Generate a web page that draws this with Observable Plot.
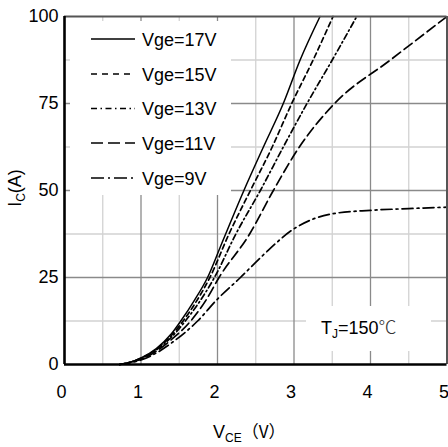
<!DOCTYPE html>
<html><head><meta charset="utf-8">
<script src="https://cdn.jsdelivr.net/npm/d3@7"></script>
<script src="https://cdn.jsdelivr.net/npm/@observablehq/plot@0.6"></script>
<style>html,body{margin:0;padding:0;background:#fff} svg{display:block}</style>
</head><body><div id="chart"></div>
<script>
// ---- data ----
const seriesNames = ["Vge=17V", "Vge=15V", "Vge=13V", "Vge=11V", "Vge=9V"];
const vce17 = [0.72, 0.85, 1.0, 1.2, 1.4, 1.52, 1.7, 1.87, 2.05, 2.345, 2.6, 2.86, 3.08, 3.34];
const ic17  = [0, 0.6, 1.9, 4.6, 8.9, 12.5, 18.5, 25, 34.5, 50, 62.5, 75, 87.5, 100];
const vce15 = [0.72, 0.85, 1.0, 1.2, 1.4, 1.55, 1.72, 1.9, 2.15, 2.43, 2.715, 2.97, 3.25, 3.51];
const ic15  = [0, 0.6, 1.8, 4.4, 8.4, 12.5, 18, 25, 37.5, 50, 62.5, 75, 87.5, 100];
const vce13 = [0.72, 0.85, 1.0, 1.2, 1.4, 1.58, 1.77, 1.96, 2.24, 2.56, 2.86, 3.17, 3.5, 3.82];
const ic13  = [0, 0.6, 1.7, 4.2, 7.9, 12.5, 18.2, 25, 37.5, 50, 62.5, 75, 87.5, 100];
const vce11 = [0.72, 0.85, 1.0, 1.2, 1.4, 1.65, 1.85, 2.02, 2.42, 2.73, 3.07, 3.53, 4.26, 5.0];
const ic11  = [0, 0.5, 1.5, 3.8, 7.2, 12.5, 18.5, 25, 37.5, 50, 62.5, 75, 87.5, 100];
const vce9  = [0.72, 0.85, 1.0, 1.2, 1.4, 1.74, 2.0, 2.3, 2.6, 3.0, 3.25, 3.5, 4.0, 4.5, 5.0];
const ic9   = [0, 0.5, 1.3, 3.3, 6.2, 12.5, 18.8, 25, 31.5, 39, 41.8, 43.3, 44.3, 44.8, 45.2];
const xTicks = [0, 1, 2, 3, 4, 5];
const yTicks = [0, 25, 50, 75, 100];
const xMinor = [0.5, 1.5, 2.5, 3.5, 4.5];
const yMinor = [12.5, 37.5, 62.5, 87.5];
const xTitle = ["V", "CE", "（V）"];
const yTitle = ["I", "C", "(A)"];
const tempLabel = ["T", "J", "=150", "℃"];

// ---- styles ----
const dashStyle = {
  "Vge=17V": null,
  "Vge=15V": "5,3.5",
  "Vge=13V": "6,3,1.5,3",
  "Vge=11V": "10,4.5",
  "Vge=9V": "11,4,2,4"
};
const legendDash = {
  "Vge=17V": null,
  "Vge=15V": "6,5",
  "Vge=13V": "6,3.5,1.5,3.5",
  "Vge=11V": "12,5",
  "Vge=9V": "13,4,2,4"
};
const FONT = "'Liberation Sans', Arial, Helvetica, sans-serif";

const seriesData = [[vce17, ic17], [vce15, ic15], [vce13, ic13], [vce11, ic11], [vce9, ic9]];
const rows = [];
seriesData.forEach(([xs, ys], i) => xs.forEach((x, j) => rows.push({s: seriesNames[i], vce: x, ic: ys[j]})));

const lineMarks = seriesNames.map(name => Plot.line(rows.filter(d => d.s === name), {
  x: "vce", y: "ic", stroke: "black", strokeWidth: dashStyle[name] ? 1.7 : 1.5,
  strokeDasharray: dashStyle[name] || undefined, curve: "monotone-x"
}));

// white boxes behind legend and temperature label (pixel-positioned annotations)
const boxes = () => {
  const g = d3.create("svg:g");
  g.append("rect").attr("x", 70).attr("y", 21).attr("width", 161).attr("height", 174).attr("fill", "white");
  g.append("rect").attr("x", 306).attr("y", 306).attr("width", 125).attr("height", 45).attr("fill", "white");
  return g.node();
};

const annotations = () => {
  const g = d3.create("svg:g").attr("font-family", FONT).attr("fill", "black").attr("text-anchor", "start");
  // legend
  const ys = [39, 74, 108.5, 143, 178];
  seriesNames.forEach((name, i) => {
    g.append("line").attr("x1", 91).attr("x2", 135).attr("y1", ys[i]).attr("y2", ys[i])
      .attr("stroke", "black").attr("stroke-width", 1.7)
      .attr("stroke-dasharray", legendDash[name]);
    g.append("text").attr("x", 142).attr("y", ys[i] + 6.5).attr("font-size", 18).text(name);
  });
  // x title
  const tx = g.append("text").attr("x", 213).attr("y", 438).attr("font-size", 18);
  tx.append("tspan").text(xTitle[0]);
  tx.append("tspan").attr("font-size", 12).attr("dy", 4).text(xTitle[1]);
  tx.append("tspan").attr("dy", -4).attr("font-family", "'Noto Sans CJK SC', sans-serif").attr("font-size", 17).text(xTitle[2]);
  // y title
  const ty = g.append("text").attr("transform", "translate(21,188) rotate(-90)").attr("text-anchor", "middle").attr("font-size", 18);
  ty.append("tspan").text(yTitle[0]);
  ty.append("tspan").attr("font-size", 12).attr("dy", 4).text(yTitle[1]);
  ty.append("tspan").attr("dy", -4).text(yTitle[2]);
  // temperature
  const tt = g.append("text").attr("x", 321).attr("y", 334).attr("font-size", 18);
  tt.append("tspan").text(tempLabel[0]);
  tt.append("tspan").attr("font-size", 12).attr("dy", 4).text(tempLabel[1]);
  tt.append("tspan").attr("dy", -4).text(tempLabel[2]);
  tt.append("tspan").attr("font-family", "'Noto Sans CJK SC', sans-serif").attr("font-weight", 300).attr("fill", "#333").text(tempLabel[3]);
  return g.node();
};

const chart = Plot.plot({
  width: 448, height: 447,
  marginLeft: 64, marginRight: 1.5, marginTop: 16, marginBottom: 83,
  x: {domain: [0, 5]},
  y: {domain: [0, 100]},
  style: {fontFamily: FONT, fontSize: "18px", background: "#fff", color: "black"},
  marks: [
    Plot.ruleX(xMinor, {stroke: "#d2d2d2", strokeWidth: 1.3}),
    Plot.ruleY(yMinor, {stroke: "#d2d2d2", strokeWidth: 1.3}),
    Plot.ruleX(xTicks.slice(1, -1), {stroke: "#8a8a8a", strokeWidth: 1.3}),
    Plot.ruleY(yTicks.slice(1, -1), {stroke: "#8a8a8a", strokeWidth: 1.3}),
    boxes,
    ...lineMarks,
    Plot.ruleY([100], {stroke: "#555", strokeWidth: 2}),
    Plot.ruleX([5], {stroke: "#555", strokeWidth: 2}),
    Plot.ruleX([0], {stroke: "black", strokeWidth: 2.6}),
    Plot.ruleY([0], {stroke: "black", strokeWidth: 2.6}),
    Plot.axisX({ticks: xTicks, tickSize: 0, tickPadding: 21, label: null, dx: -3, fontSize: 18, tickFormat: d => String(d)}),
    Plot.axisY({ticks: yTicks, tickSize: 0, tickPadding: 6, label: null, fontSize: 18, tickFormat: d => String(d)}),
    annotations
  ]
});
document.getElementById("chart").appendChild(chart);
</script>
</body></html>
